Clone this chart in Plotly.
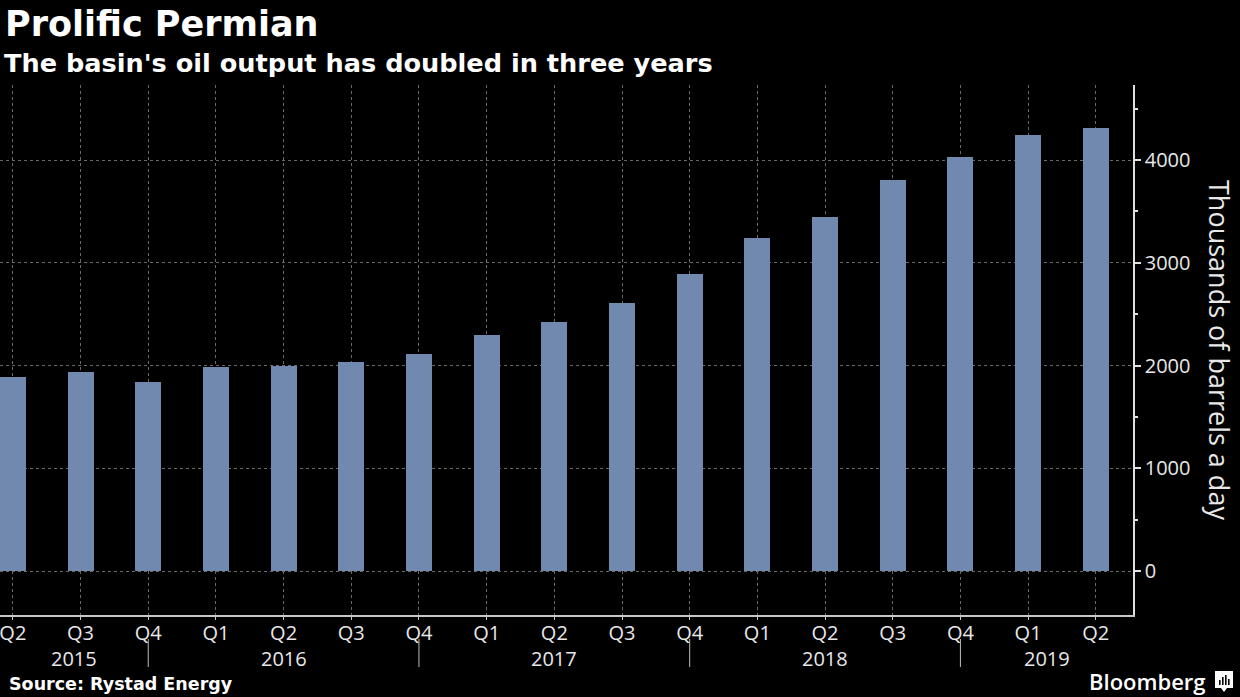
import plotly.graph_objects as go

# ---------------- data ----------------
quarters = ["Q2", "Q3", "Q4",
            "Q1", "Q2", "Q3", "Q4",
            "Q1", "Q2", "Q3", "Q4",
            "Q1", "Q2", "Q3", "Q4",
            "Q1", "Q2"]
years = [2015, 2015, 2015,
         2016, 2016, 2016, 2016,
         2017, 2017, 2017, 2017,
         2018, 2018, 2018, 2018,
         2019, 2019]
output_kbd = [1893, 1935, 1845,
              1984, 2000, 2039, 2117,
              2298, 2421, 2605, 2896,
              3240, 3447, 3809, 4029,
              4240, 4311]

title = "Prolific Permian"
subtitle = "The basin's oil output has doubled in three years"
source = "Source: Rystad Energy"
y_title = "Thousands of barrels a day"

# ---------------- layout geometry ----------------
W, H = 1240, 697
PL, PR, PT, PB = 0, 1133, 85, 615   # plot area in pixels
XR = [-0.19, 16.55]
YR = [-425, 4730]

def px(xp):
    return (xp - PL) / (PR - PL)

def py(yp):
    return (PB - yp) / (PB - PT)

BAR = "#7189AE"
GRID = "#6a6a6a"
TXT = "#e8e8e8"
TICKFONT = "Open Sans"

idx = list(range(len(quarters)))

fig = go.Figure(go.Bar(
    x=idx, y=output_kbd, width=0.385,
    marker=dict(color=BAR, line=dict(width=0)),
    hoverinfo="skip",
))

fig.update_layout(
    width=W, height=H,
    margin=dict(l=PL, r=W - PR, t=PT, b=H - PB, pad=0),
    paper_bgcolor="#000000", plot_bgcolor="#000000",
    showlegend=False,
    bargap=0,
)

fig.update_xaxes(
    range=XR, tickmode="array", tickvals=idx, ticktext=quarters,
    showgrid=True, gridcolor=GRID, griddash="dot", gridwidth=1,
    showline=True, linecolor="#c8c8c8", linewidth=1.5,
    ticks="outside", ticklen=3, tickcolor="#c8c8c8", tickwidth=1,
    ticklabelstandoff=-4,
    tickfont=dict(family=TICKFONT, size=20, color=TXT),
    ticklabeloverflow="allow",
    zeroline=False, fixedrange=True,
)
fig.update_yaxes(
    range=YR, side="right", tick0=0, dtick=1000,
    showgrid=True, gridcolor=GRID, griddash="dot", gridwidth=1,
    showline=True, linecolor="#e0e0e0", linewidth=1.5,
    ticks="outside", ticklen=6, tickcolor="#e0e0e0", tickwidth=1.5,
    minor=dict(tick0=0, dtick=500, ticks="outside", ticklen=3,
               tickcolor="#e0e0e0", showgrid=False),
    tickfont=dict(family=TICKFONT, size=20, color=TXT),
    zeroline=False, fixedrange=True,
)

# year separators (at each Q4) and year labels (centre of visible span)
q4_idx = [i for i, q in enumerate(quarters) if q == "Q4"]
shapes = []
for i in q4_idx:
    shapes.append(dict(type="line", xref="x", yref="paper",
                       x0=i, x1=i, y0=py(639), y1=py(667),
                       line=dict(color="#bdbdbd", width=1)))

annotations = []
uniq_years = []
for y in years:
    if y not in uniq_years:
        uniq_years.append(y)
for yr in uniq_years:
    ids = [i for i, y in enumerate(years) if y == yr]
    prev_q4 = [i for i in q4_idx if i < ids[0]]
    start = prev_q4[-1] if prev_q4 else XR[0]
    end = ids[-1] if quarters[ids[-1]] == "Q4" else XR[1]
    annotations.append(dict(x=(start + end) / 2, y=py(658), xref="x", yref="paper",
                            text=str(yr), showarrow=False,
                            xanchor="center", yanchor="middle",
                            font=dict(family=TICKFONT, size=20, color=TXT)))

annotations += [
    dict(x=px(3), y=py(24), xref="paper", yref="paper", text=f"<b>{title}</b>",
         showarrow=False, xanchor="left", yanchor="middle",
         font=dict(family="DejaVu Sans", size=35, color="#ffffff")),
    dict(x=px(2), y=py(63), xref="paper", yref="paper", text=f"<b>{subtitle}</b>",
         showarrow=False, xanchor="left", yanchor="middle",
         font=dict(family="DejaVu Sans", size=25.6, color="#ffffff")),
    dict(x=px(7), y=py(684), xref="paper", yref="paper", text=f"<b>{source}</b>",
         showarrow=False, xanchor="left", yanchor="middle",
         font=dict(family="DejaVu Sans", size=17.5, color="#ffffff")),
    dict(x=px(1220), y=py(350), xref="paper", yref="paper", text=y_title,
         showarrow=False, xanchor="center", yanchor="middle", textangle=90,
         font=dict(family=TICKFONT, size=27, color=TXT)),
    dict(x=px(1208), y=py(681), xref="paper", yref="paper", text="Bloomberg",
         showarrow=False, xanchor="right", yanchor="middle",
         font=dict(family=TICKFONT, size=22, color="#ffffff", weight=600)),
]

# Bloomberg logo icon
lx0, lx1, ly0, ly1 = 1215, 1233, 671, 688
shapes.append(dict(type="path", xref="paper", yref="paper",
                   path=(f"M {px(lx0)},{py(ly0)} L {px(lx1)},{py(ly0)} "
                         f"L {px(lx1)},{py(ly1)} L {px(1227)},{py(ly1)} "
                         f"L {px(1224)},{py(692)} L {px(1221)},{py(ly1)} "
                         f"L {px(lx0)},{py(ly1)} Z"),
                   fillcolor="#ffffff", line=dict(width=0)))
for bx, btop in [(1219, 680), (1222, 677), (1225, 675), (1228, 679)]:
    shapes.append(dict(type="rect", xref="paper", yref="paper",
                       x0=px(bx), x1=px(bx + 1.6), y0=py(685), y1=py(btop),
                       fillcolor="#000000", line=dict(width=0)))

fig.update_layout(shapes=shapes, annotations=annotations)

fig.write_html(
    "out.html",
    config={"displayModeBar": False},
    post_script="document.body.style.margin='0';document.body.style.background='#000';",
)
